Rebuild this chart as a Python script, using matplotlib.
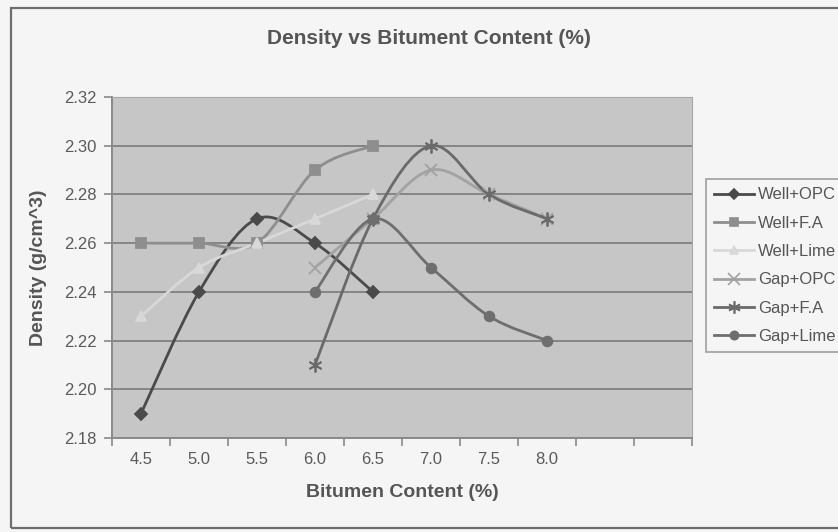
import numpy as np
import matplotlib
matplotlib.use("Agg")
import matplotlib.pyplot as plt
from matplotlib.path import Path
from matplotlib.patches import PathPatch, Rectangle
from matplotlib.lines import Line2D

plt.rcParams['font.family'] = ['Liberation Sans', 'DejaVu Sans']

# category axis (two empty slots after 8.0, as in the sheet)
categories = ["4.5", "5.0", "5.5", "6.0", "6.5", "7.0", "7.5", "8.0", "", ""]

well_opc = [2.19, 2.24, 2.27, 2.26, 2.24]
well_fa = [2.26, 2.26, 2.26, 2.29, 2.30]
well_lime = [2.23, 2.25, 2.26, 2.27, 2.28]
gap_opc = [2.25, 2.27, 2.29, 2.28, 2.27]
gap_fa = [2.21, 2.27, 2.30, 2.28, 2.27]
gap_lime = [2.24, 2.27, 2.25, 2.23, 2.22]

well_idx = [0, 1, 2, 3, 4]   # 4.5 .. 6.5
gap_idx = [3, 4, 5, 6, 7]    # 6.0 .. 8.0

yticks = [2.18, 2.20, 2.22, 2.24, 2.26, 2.28, 2.30, 2.32]

series = [
    ("Well+OPC", well_idx, well_opc, "#4a4a4a", "D", 6),
    ("Well+F.A", well_idx, well_fa, "#8e8e8e", "s", 7),
    ("Well+Lime", well_idx, well_lime, "#d8d8d8", "^", 7),
    ("Gap+OPC", gap_idx, gap_opc, "#a2a2a2", "x", 9),
    ("Gap+F.A", gap_idx, gap_fa, "#6a6a6a", (6, 2, 0), 10),
    ("Gap+Lime", gap_idx, gap_lime, "#6e6e6e", "o", 7),
]


def smooth_path(x, y):
    # Excel-style smoothed line: cubic bezier segments through the points
    x = np.asarray(x, float)
    y = np.asarray(y, float)
    pts = np.column_stack([x, y])
    n = len(pts)
    verts = [pts[0]]
    codes = [Path.MOVETO]
    for i in range(n - 1):
        p0 = pts[i - 1] if i > 0 else pts[i]
        p1 = pts[i]
        p2 = pts[i + 1]
        p3 = pts[i + 2] if i + 2 < n else pts[i + 1]
        c1 = p1 + (p2 - p0) / 6.0
        c2 = p2 - (p3 - p1) / 6.0
        verts += [c1, c2, p2]
        codes += [Path.CURVE4] * 3
    return Path(verts, codes)


fig = plt.figure(figsize=(8.38, 5.32), dpi=100)
fig.patch.set_facecolor("#f5f5f5")

# outer chart border
fig.patches.append(Rectangle((11 / 838, 4 / 532), 1.0, 1 - 12 / 532,
                             transform=fig.transFigure, fill=False,
                             edgecolor="#6e6e6e", linewidth=1.6))

ax = fig.add_axes([112 / 838, 1 - 438 / 532, 580 / 838, 341 / 532])
ax.set_facecolor("#c6c6c6")

for name, xi, vals, col, mk, ms in series:
    ax.add_patch(PathPatch(smooth_path(xi, vals), fill=False, edgecolor=col,
                           linewidth=2.0, zorder=3))
    ax.plot(xi, vals, linestyle="none", marker=mk, color=col,
            markersize=ms, markeredgewidth=1.3, zorder=4)

ax.set_xlim(-0.5, len(categories) - 0.5)
ax.set_ylim(yticks[0], yticks[-1])
ax.set_yticks(yticks)
ax.set_yticklabels([f"{v:.2f}" for v in yticks])
ax.yaxis.grid(True, color="#7a7a7a", linewidth=1.2)
ax.set_axisbelow(True)

ax.set_xticks(np.arange(len(categories) + 1) - 0.5)
ax.set_xticklabels([])
ax.set_xticks(np.arange(len(categories)), minor=True)
ax.set_xticklabels(categories, minor=True)
ax.tick_params(axis="x", which="minor", length=0, pad=10)
ax.tick_params(axis="both", which="major", direction="out", length=6,
               color="#8a8a8a", width=1.2)
ax.tick_params(axis="y", pad=5)
ax.tick_params(labelsize=12, labelcolor="#5a5a5a", which="both")

for s in ["top", "right"]:
    ax.spines[s].set_color("#a8a8a8")
for s in ["left", "bottom"]:
    ax.spines[s].set_color("#8a8a8a")
    ax.spines[s].set_linewidth(1.4)

ax.set_xlabel("Bitumen Content (%)", fontsize=14, fontweight="bold",
              color="#555555", labelpad=12)
ax.set_ylabel("Density (g/cm^3)", fontsize=14, fontweight="bold",
              color="#555555", labelpad=12)

fig.text(429 / 838, 1 - 39 / 532, "Density vs Bitument Content (%)",
         ha="center", va="center", fontsize=15, fontweight="bold",
         color="#555555")

handles = [Line2D([], [], color=col, marker=mk, markersize=ms - 1,
                  linewidth=2.0, markeredgewidth=1.2)
           for name, xi, vals, col, mk, ms in series]
leg = fig.legend(handles, [s[0] for s in series], loc="upper left",
                 bbox_to_anchor=(706 / 838, 1 - 179 / 532), fontsize=12,
                 frameon=True, fancybox=False, handlelength=2.4,
                 handletextpad=0.2, labelspacing=0.8, borderpad=0.5,
                 borderaxespad=0)
leg.get_frame().set_edgecolor("#8a8a8a")
leg.get_frame().set_facecolor("#f5f5f5")
leg.get_frame().set_linewidth(1.2)
for t in leg.get_texts():
    t.set_color("#555555")

fig.savefig("out.png", dpi=100, facecolor=fig.get_facecolor())
